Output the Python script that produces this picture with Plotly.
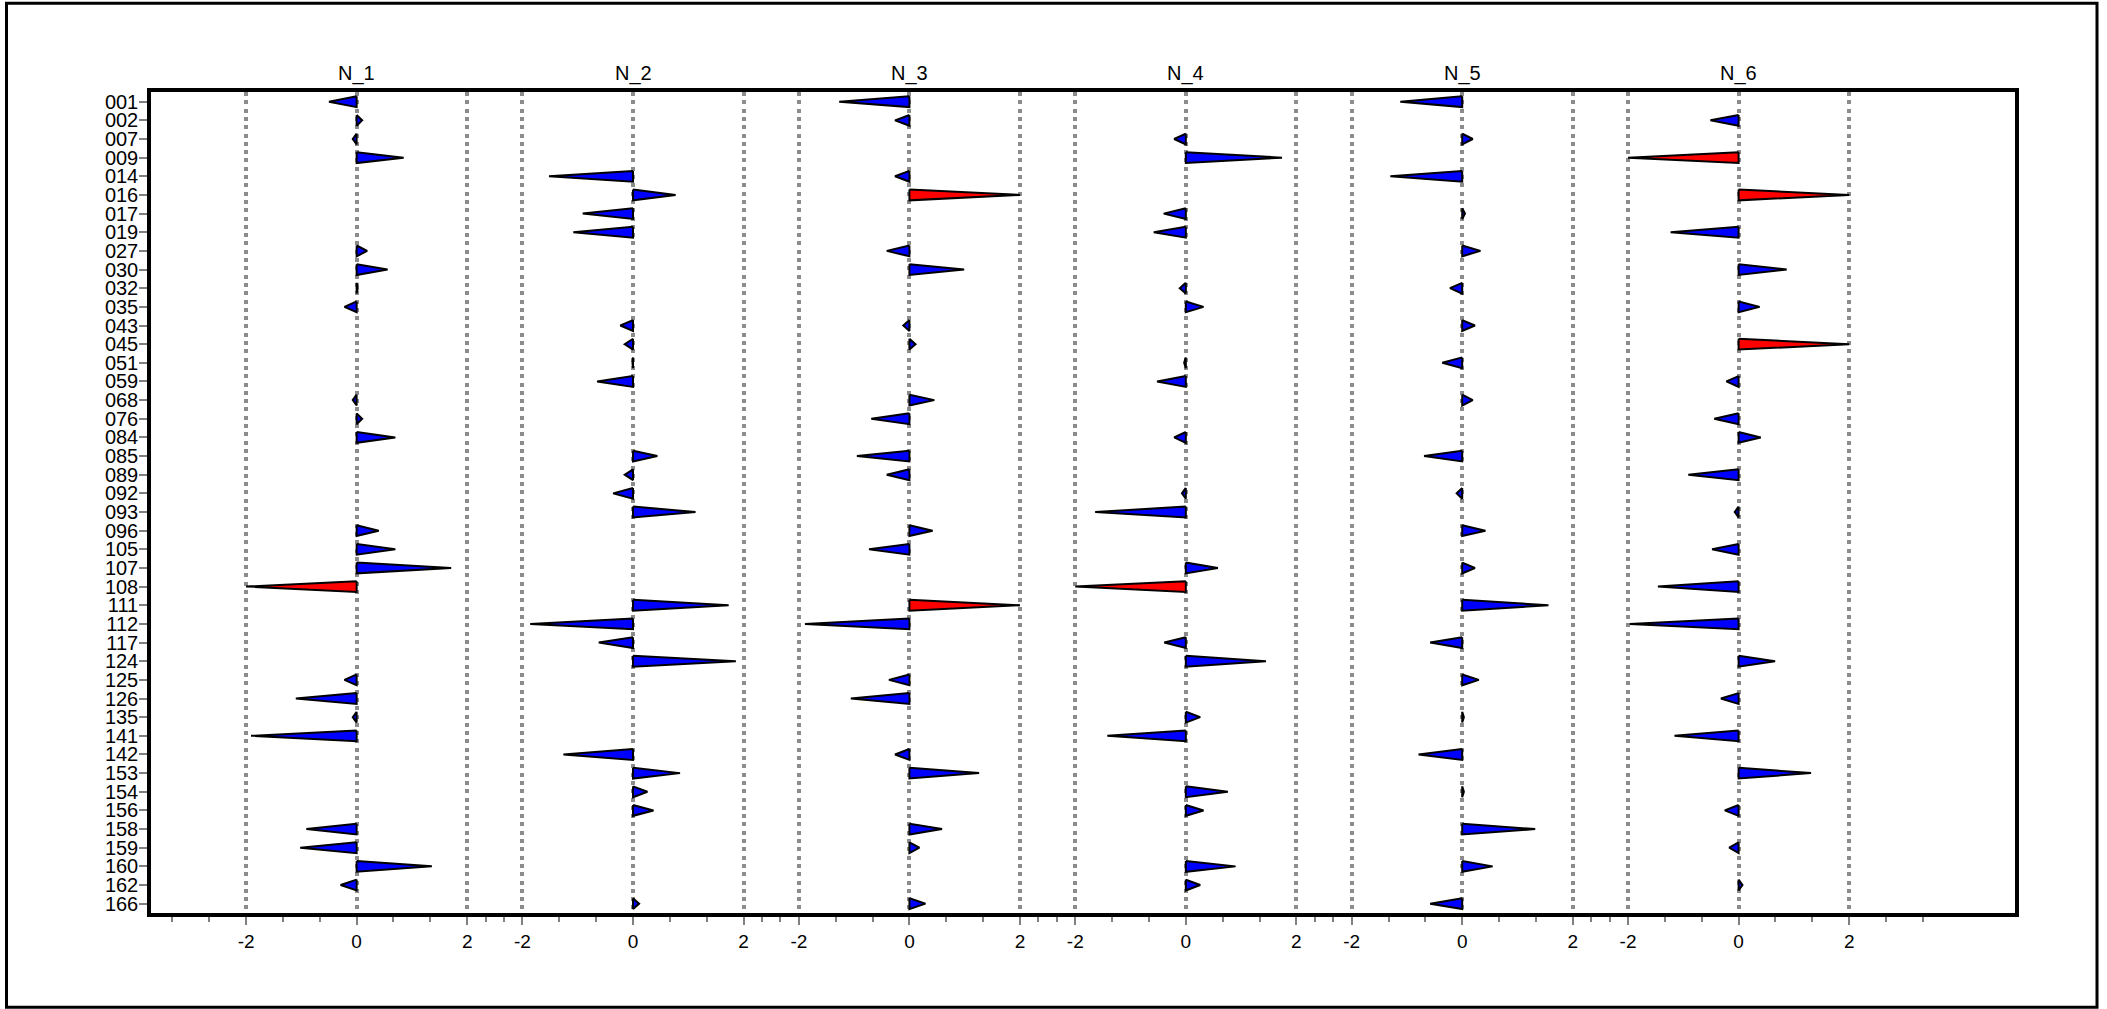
import plotly.graph_objects as go

# ---------------- data ----------------
categories = ["001", "002", "007", "009", "014", "016", "017", "019", "027", "030",
              "032", "035", "043", "045", "051", "059", "068", "076", "084", "085",
              "089", "092", "093", "096", "105", "107", "108", "111", "112", "117",
              "124", "125", "126", "135", "141", "142", "153", "154", "156", "158",
              "159", "160", "162", "166"]

panel_names = ["N_1", "N_2", "N_3", "N_4", "N_5", "N_6"]
tick_labels = ["-2", "0", "2"]
tick_values = [-2, 0, 2]

_ = None
n_1 = [-0.50, 0.10, -0.07, 0.85, _, _, _, _, 0.19, 0.56,
       0.02, -0.22, _, _, _, _, -0.07, 0.10, 0.70, _,
       _, _, _, 0.40, 0.70, 1.71, -2.00, _, _, _,
       _, -0.22, -1.10, -0.07, -1.91, _, _, _, _, -0.91,
       -1.02, 1.36, -0.29, _]
n_2 = [_, _, _, _, -1.52, 0.77, -0.91, -1.08, _, _,
       _, _, -0.23, -0.15, -0.01, -0.65, _, _, _, 0.44,
       -0.15, -0.36, 1.13, _, _, _, _, 1.73, -1.86, -0.62,
       1.86, _, _, _, _, -1.26, 0.85, 0.26, 0.37, _,
       _, _, _, 0.11]
n_3 = [-1.27, -0.26, _, _, -0.26, 2.00, _, _, -0.41, 0.99,
       _, _, -0.11, 0.11, _, _, 0.45, -0.69, _, -0.95,
       -0.41, _, _, 0.42, -0.73, _, _, 2.00, -1.89, _,
       _, -0.37, -1.06, _, _, -0.26, 1.26, _, _, 0.59,
       0.18, _, _, 0.29]
n_4 = [_, _, -0.21, 1.74, _, _, -0.40, -0.58, _, _,
       -0.11, 0.32, _, _, -0.03, -0.52, _, _, -0.21, _,
       _, -0.07, -1.64, _, _, 0.58, -2.00, _, _, -0.39,
       1.45, _, _, 0.26, -1.42, _, _, 0.76, 0.32, _,
       _, 0.90, 0.26, _]
n_5 = [-1.12, _, 0.19, _, -1.30, _, 0.05, _, 0.33, _,
       -0.22, _, 0.23, _, -0.36, _, 0.19, _, _, -0.69,
       _, -0.10, _, 0.42, _, 0.23, _, 1.56, _, -0.58,
       _, 0.30, _, 0.03, _, -0.79, _, 0.03, _, 1.32,
       _, 0.55, _, -0.58]
n_6 = [_, -0.51, _, -2.00, _, 2.00, _, -1.23, _, 0.87,
       _, 0.38, _, 2.00, _, -0.22, _, -0.44, 0.40, _,
       -0.91, _, -0.07, _, -0.48, _, -1.46, _, -1.97, _,
       0.66, _, -0.32, _, -1.16, _, 1.31, _, -0.25, _,
       -0.17, _, 0.07, _]
panels = [n_1, n_2, n_3, n_4, n_5, n_6]

# ---------------- style / layout constants ----------------
W, H = 2107, 1009
ML, MR, MT, MB = 151, 92, 92, 96
PANEL_STEP = 5.0       # each facet occupies 5 units on the shared x axis
HALF = 0.29            # half height of a triangle base, in rows
CAP = 2.0              # values are capped at +-2 and then drawn red
X_RANGE = [-3.72, 30.0]
Y_RANGE = [len(categories) - 0.5, -0.52]
FONT = "Liberation Sans, Arial, sans-serif"
BLUE, RED = "#0000ff", "#ff0000"

fig = go.Figure()

for red_group in (False, True):
    xs, ys = [], []
    for k, vals in enumerate(panels):
        off = k * PANEL_STEP
        for i, v in enumerate(vals):
            if v is None:
                continue
            is_red = abs(v) >= CAP
            if is_red != red_group:
                continue
            vv = max(-CAP, min(CAP, v))
            xs += [off, off + vv, off, off, None]
            ys += [i - HALF, i, i + HALF, i - HALF, None]
    fig.add_trace(go.Scatter(
        x=xs, y=ys, mode="lines", fill="toself",
        fillcolor=RED if red_group else BLUE,
        line=dict(color="black", width=2),
        hoverinfo="skip", showlegend=False))

major_vals, major_text = [], []
minor_vals = []
for k in range(len(panels)):
    off = k * PANEL_STEP
    for tv, tl in zip(tick_values, tick_labels):
        major_vals.append(off + tv)
        major_text.append(tl)
    for m in (-2 / 3, -4 / 3, 2 / 3, 4 / 3, -8 / 3, 8 / 3):
        minor_vals.append(off + m)
    if k == 0:
        minor_vals.append(off - 10 / 3)
    if k == len(panels) - 1:
        minor_vals.append(off + 10 / 3)

fig.update_layout(
    width=W, height=H,
    margin=dict(l=ML, r=MR, t=MT, b=MB, pad=0),
    plot_bgcolor="white", paper_bgcolor="white",
    font=dict(family=FONT, color="black"),
    showlegend=False,
)

fig.update_xaxes(
    range=X_RANGE, tickmode="array", tickvals=major_vals, ticktext=major_text,
    ticks="outside", ticklen=8, tickwidth=2, tickcolor="#808080",
    showgrid=True, gridcolor="#8c8c8c", gridwidth=3.5, griddash="4px,4.3px",
    zeroline=False, showline=True, linecolor="black", linewidth=3.5, mirror=True,
    tickfont=dict(size=19, family=FONT, color="black"),
    minor=dict(tickmode="array", tickvals=minor_vals, ticks="outside",
               ticklen=5, tickwidth=2, tickcolor="#808080", showgrid=False),
)
fig.update_yaxes(
    range=Y_RANGE, tickmode="array", tickvals=list(range(len(categories))),
    ticktext=categories, ticks="outside", ticklen=8, tickwidth=2,
    tickcolor="#808080", showgrid=False, zeroline=False,
    showline=True, linecolor="black", linewidth=3.5, mirror=True,
    ticklabelstandoff=-3,
    tickfont=dict(size=20, family=FONT, color="black"),
)

for k, name in enumerate(panel_names):
    fig.add_annotation(x=k * PANEL_STEP, xref="x", y=1, yref="paper",
                       yanchor="bottom", yshift=5, text=name, showarrow=False,
                       font=dict(size=20, family=FONT, color="black"))

# outer frame around the whole picture (pixel positions -> paper coords)
pw, ph = W - ML - MR, H - MT - MB
def px_x(p):
    return (p - ML) / pw
def px_y(p):
    return (H - MB - p) / ph
fig.add_shape(type="rect", xref="paper", yref="paper",
              x0=px_x(6.5), x1=px_x(2097), y0=px_y(1007.3), y1=px_y(3.3),
              line=dict(color="black", width=3), fillcolor="rgba(0,0,0,0)")

fig.write_html("out.html",
               config={"responsive": False, "displayModeBar": False},
               post_script="document.body.style.margin='0px';")
